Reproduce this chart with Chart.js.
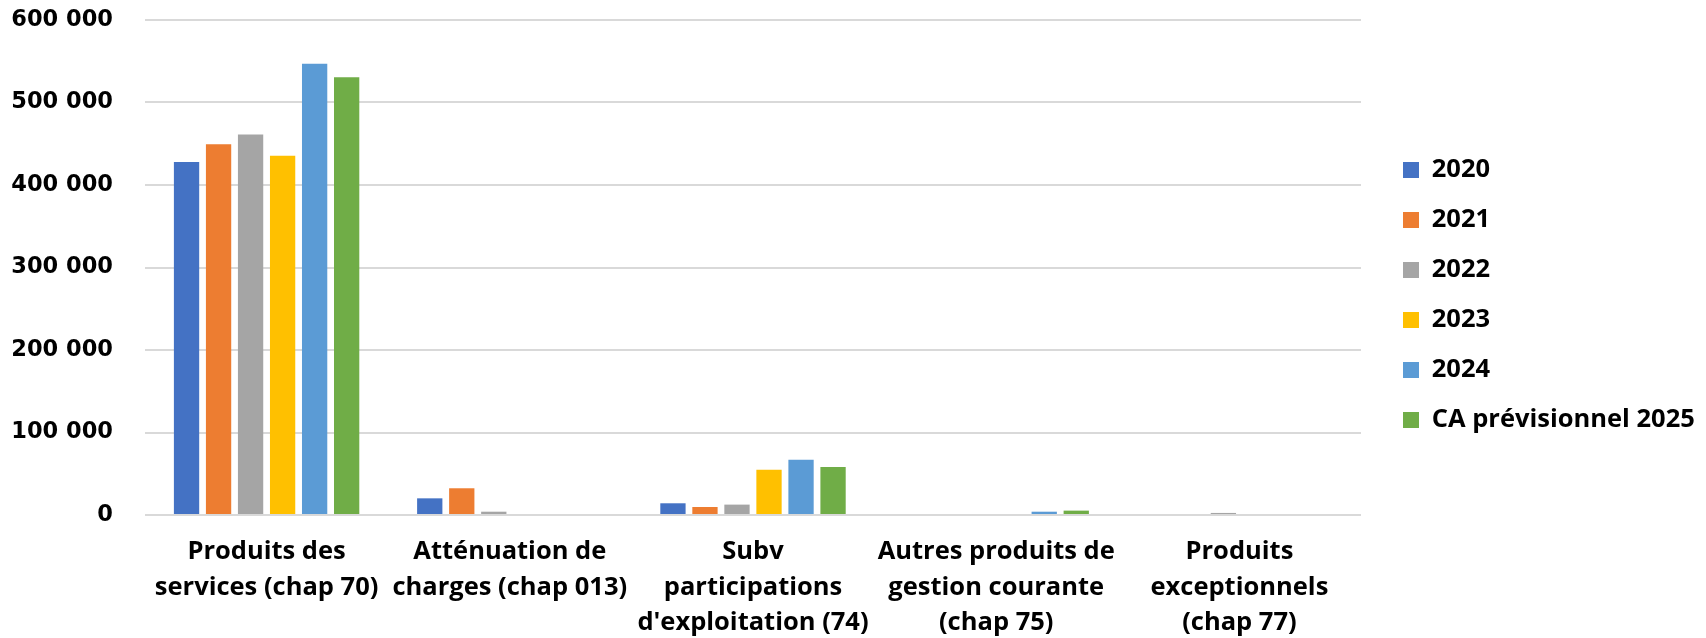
<!DOCTYPE html>
<html>
<head>
<meta charset="utf-8">
<script src="https://cdn.jsdelivr.net/npm/chart.js@4/dist/chart.umd.min.js"></script>
<style>
  html, body { margin: 0; padding: 0; background: #ffffff; }
  #wrap { width: 1706px; height: 638px; position: relative; }
</style>
</head>
<body>
<div id="wrap"><canvas id="c" width="1706" height="638"></canvas></div>
<script>
const categories = [
  ["Produits des", "services (chap 70)"],
  ["Atténuation de", "charges (chap 013)"],
  ["Subv", "participations", "d'exploitation (74)"],
  ["Autres produits de", "gestion courante", "(chap 75)"],
  ["Produits", "exceptionnels", "(chap 77)"]
];
const seriesNames = ["2020", "2021", "2022", "2023", "2024", "CA prévisionnel 2025"];
const values2020 = [428000, 20200, 14200, 0, 0];
const values2021 = [449300, 32400, 9700, 0, 0];
const values2022 = [461100, 4000, 12600, 0, 2500];
const values2023 = [435500, 0, 55000, 0, 0];
const values2024 = [547000, 0, 67100, 4000, 0];
const values2025 = [530600, 0, 58200, 5300, 0];
const colors = ["#4472C4", "#ED7D31", "#A5A5A5", "#FFC000", "#5B9BD5", "#70AD47"];
const yTicks = [0, 100000, 200000, 300000, 400000, 500000, 600000];

const allValues = [values2020, values2021, values2022, values2023, values2024, values2025];

const datasets = seriesNames.map((name, i) => ({
  label: name,
  data: allValues[i],
  backgroundColor: colors[i],
  borderWidth: 0,
  barPercentage: 0.79,
  categoryPercentage: 0.79
}));

function fmt(v) {
  return String(v).replace(/\B(?=(\d{3})+(?!\d))/g, " ");
}

const legendWidthPlugin = {
  id: "legendWidth",
  beforeInit(chart) {
    const lg = chart.legend;
    if (lg) {
      const origFit = lg.fit;
      lg.fit = function () {
        origFit.call(this);
        this.width = 327.5;
      };
    }
  }
};

new Chart(document.getElementById("c"), {
  type: "bar",
  data: { labels: categories, datasets: datasets },
  plugins: [legendWidthPlugin],
  options: {
    responsive: false,
    animation: false,
    layout: { padding: { left: 11, top: 20, right: 0, bottom: 0 } },
    plugins: {
      tooltip: { enabled: false },
      legend: {
        position: "right",
        align: "start",
        maxWidth: 400,
        title: { display: true, text: " ", font: { size: 1 }, padding: { top: 111.5, bottom: 0 } },
        labels: {
          boxWidth: 16,
          boxHeight: 16,
          padding: 24.5,
          color: "#000000",
          font: { family: "'Open Sans'", size: 25.5, weight: "bold" }
        }
      }
    },
    scales: {
      x: {
        grid: { display: false, drawTicks: false },
        border: { display: false },
        ticks: {
          color: "#000000",
          padding: 19,
          maxRotation: 0,
          autoSkip: false,
          font: { family: "'Open Sans'", size: 25.5, weight: "bold", lineHeight: "35.5px" }
        },
        afterFit: (scale) => {
          scale.paddingLeft = 0;
          scale.paddingRight = 0;
          scale.height = 123;
        }
      },
      y: {
        min: 0,
        max: 600000,
        afterBuildTicks: (scale) => { scale.ticks = yTicks.map(v => ({ value: v })); },
        grid: { color: "#D9D9D9", lineWidth: 2, drawTicks: false },
        border: { display: false },
        ticks: {
          color: "#000000",
          padding: 32,
          font: { family: "'DejaVu Sans'", size: 22.5, weight: "bold" },
          callback: (v) => fmt(v)
        },
        afterFit: (scale) => {
          scale.width = 134;
          scale.paddingTop = 0;
          scale.paddingBottom = 0;
        }
      },
      spacer: {
        position: "right",
        display: true,
        grid: { display: false, drawTicks: false },
        border: { display: false },
        ticks: { display: false },
        afterFit: (scale) => { scale.width = 17.5; scale.paddingTop = 0; scale.paddingBottom = 0; }
      }
    }
  }
});
</script>
</body>
</html>
